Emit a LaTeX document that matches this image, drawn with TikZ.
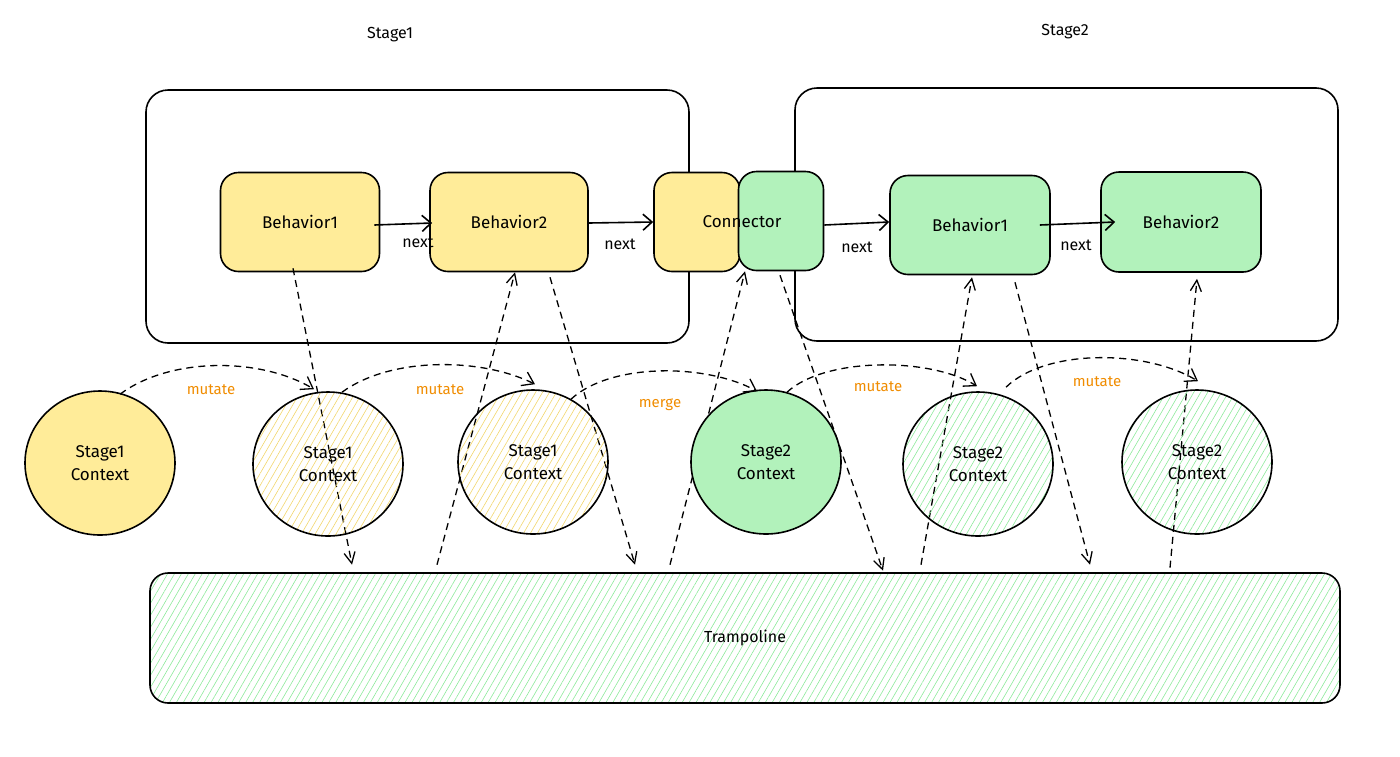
\documentclass[tikz,border=0pt]{standalone}
\usepackage{fontspec}
\setmainfont{Fira Sans}
\usetikzlibrary{shapes.geometric,arrows.meta,patterns.meta,calc}
\definecolor{yfill}{HTML}{FFEC99}
\definecolor{gfill}{HTML}{B2F2BB}
\definecolor{yhatch}{HTML}{F2D66B}
\definecolor{ghatch}{HTML}{8CE99A}
\definecolor{orng}{HTML}{F08C00}
\begin{document}
\begin{tikzpicture}[x=1pt,y=-1pt,
  stagebox/.style={draw, line width=1.6pt, rounded corners=22pt, minimum width=543pt, minimum height=253pt, inner sep=0pt},
  beh/.style={draw, line width=1.6pt, rounded corners=18pt, minimum height=99pt, minimum width=159pt, inner sep=0pt, font=\fontsize{17}{20}\selectfont},
  ctx/.style={ellipse, draw, line width=1.6pt, minimum width=150pt, minimum height=144pt, inner sep=0pt, align=center, font=\fontsize{17}{23}\selectfont},
  yhat/.style={pattern={Lines[angle=60,distance=6pt,line width=0.6pt]}, pattern color=yhatch},
  ghat/.style={pattern={Lines[angle=60,distance=6pt,line width=0.6pt]}, pattern color=ghatch},
  flow/.style={line width=1.6pt, -{Straight Barb[length=9pt,width=16pt,line width=1.6pt]}},
  bounce/.style={line width=1.3pt, dash pattern=on 7pt off 5pt, -{Straight Barb[length=11pt,width=11pt,line width=1.3pt]}},
  mut/.style={line width=1.3pt, dash pattern=on 7pt off 5pt, -{Straight Barb[length=11pt,width=15pt,line width=1.3pt]}},
  lbl/.style={font=\fontsize{16}{18}\selectfont},
  olbl/.style={font=\fontsize{15}{17}\selectfont\mdseries, text=orng},
  title/.style={font=\fontsize{16}{19}\selectfont}
]
\useasboundingbox (0,0) rectangle (1400,756);

% titles
\node[title] (t1) at (390,35) {Stage1};
\node[title] (t2) at (1065,32) {Stage2};

% stage containers
\node[stagebox] (st1) at (417.5,216.5) {};
\node[stagebox] (st2) at (1066.5,214.5) {};

% behaviors
\node[beh, fill=yfill] (a1) at (300,222) {Behavior1};
\node[beh, fill=yfill, minimum width=158pt] (a2) at (509,222) {Behavior2};
\node[beh, fill=yfill, minimum width=86pt] (cy) at (697,222) {};
\node[beh, fill=gfill, minimum width=85pt] (cg) at (781,221) {};
\node[font=\fontsize{17}{20}\selectfont] (ctext) at (742,222) {Connector};
\node[beh, fill=gfill, minimum width=160pt] (b1) at (970,225) {Behavior1};
\node[beh, fill=gfill, minimum width=160pt, minimum height=100pt] (b2) at (1181,222) {Behavior2};

% next arrows
\draw[flow] ($(a1.east)+(-6,3)$) -- ($(a2.west)+(3,1)$);
\node[lbl] (n1) at (418,242) {next};
\draw[flow] ($(a2.east)+(0,1)$) -- (cy.west);
\node[lbl] (n2) at (620,244) {next};
\draw[flow] ($(cg.east)+(0,4)$) -- ($(b1.west)+(0,-3)$);
\node[lbl] (n3) at (857,247) {next};
\draw[flow] ($(b1.east)+(-11,0)$) -- ($(b2.west)+(15,0)$);
\node[lbl] (n4) at (1076,245) {next};

% trampoline
\node[draw, line width=1.6pt, rounded corners=18pt, minimum width=1190pt, minimum height=130pt, ghat, font=\fontsize{16}{19}\selectfont] (tr) at (745,638) {Trampoline};

% bounce arrows (behind solid circles)
\draw[bounce] ($(a1.south)+(-7,-4)$) -- ($(tr.north)+(-393,-8)$);
\draw[bounce] ($(tr.north)+(-308,-8)$) -- ($(a2.south)+(6,0)$);
\draw[bounce] ($(a2.south)+(41,5)$) -- ($(tr.north)+(-110,-8)$);
\draw[bounce] ($(tr.north)+(-75,-8)$) -- ($(cg.south)+(-36,0)$);
\draw[bounce] ($(cg.south)+(-1,4)$) -- ($(tr.north)+(138,-2)$);
\draw[bounce] ($(tr.north)+(176,-8)$) -- ($(b1.south)+(2,2)$);
\draw[bounce] ($(b1.south)+(45,7)$) -- ($(tr.north)+(345,-8)$);
\draw[bounce] ($(tr.north)+(425,-5)$) -- ($(b2.south)+(16,6)$);

% contexts
\node[ctx, fill=yfill] (c1) at (100,463) {Stage1\\Context};
\node[ctx, yhat] (c2) at (328,464) {Stage1\\Context};
\node[ctx, yhat] (c3) at (533,462) {Stage1\\Context};
\node[ctx, fill=gfill] (c4) at (766,462) {Stage2\\Context};
\node[ctx, ghat] (c5) at (978,464) {Stage2\\Context};
\node[ctx, ghat] (c6) at (1197,462) {Stage2\\Context};

% mutate / merge arrows
\draw[mut] ($(c1.north)+(20,4)$) .. controls (170,357) and (260,357) .. ($(c2.north)+(-14,-2)$);
\node[olbl] (m1) at (211,390) {mutate};
\draw[mut] ($(c2.north)+(14,1)$) .. controls (390,357) and (480,357) .. ($(c3.north)+(2,-5)$);
\node[olbl] (m2) at (440,390) {mutate};
\draw[mut] ($(c3.north)+(38,10)$) .. controls (610,363) and (705,363) .. ($(c4.north)+(-9,2)$);
\node[olbl] (m3) at (660,405) {merge};
\draw[mut] ($(c4.north)+(21,3)$) .. controls (825,357) and (930,357) .. ($(c5.north)+(-1,-5)$);
\node[olbl] (m4) at (878,387) {mutate};
\draw[mut] ($(c5.north)+(28,-4)$) .. controls (1045,349) and (1145,349) .. ($(c6.north)+(1,-8)$);
\node[olbl] (m5) at (1097,382) {mutate};
\end{tikzpicture}
\end{document}
